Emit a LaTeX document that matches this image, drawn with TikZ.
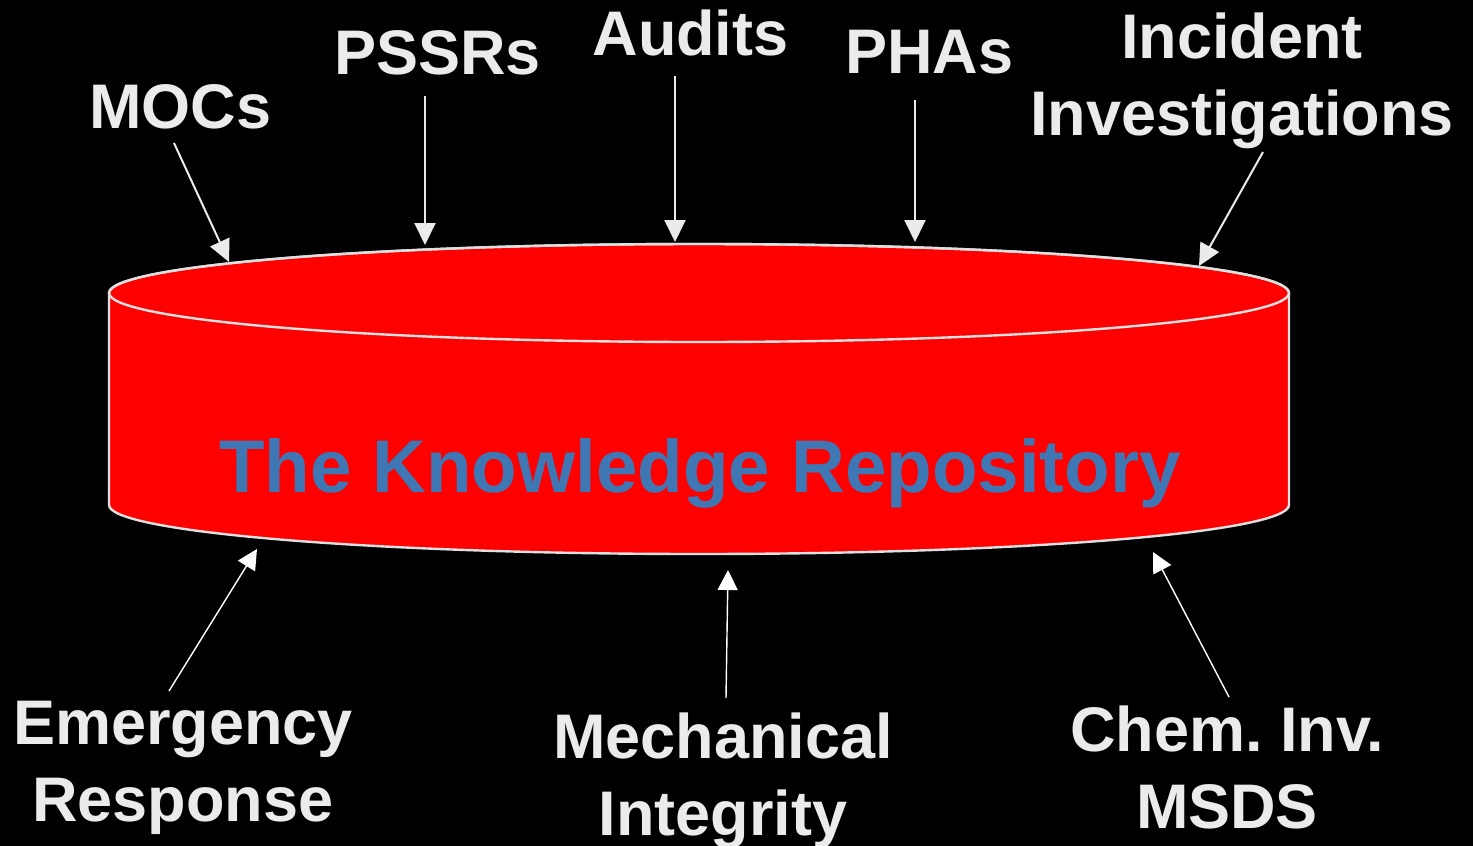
\documentclass[tikz,border=0pt]{standalone}
\usepackage{fontspec}
\setmainfont{Liberation Sans}
\usetikzlibrary{arrows.meta}
\definecolor{lbl}{HTML}{EBEBEB}
\definecolor{repo}{HTML}{3F76B4}
\definecolor{rim}{HTML}{E0E0E0}
\frenchspacing
\begin{document}
\begin{tikzpicture}[x=1pt,y=-1pt,
  lab/.style={text=lbl,font=\fontsize{63}{77}\selectfont\bfseries\frenchspacing,align=center,anchor=base,inner sep=0pt},
  toparrow/.style={draw=lbl,line width=2pt,-{Triangle[length=22pt,width=21pt]}},
  botarrow/.style={draw=white,line width=1.4pt,-{Triangle[length=20pt,width=20pt]}}]
\fill[black] (0,0) rectangle (1473,846);
\useasboundingbox (0,0) rectangle (1473,846);
% cylinder
\fill[red,draw=rim,line width=2.4pt] (109,293) -- (109,505) arc[start angle=180,end angle=0,x radius=590,y radius=49]
  -- (1289,293) arc[start angle=0,end angle=-180,x radius=590,y radius=49] -- cycle;
\draw[rim,line width=2.4pt] (699,293) ellipse[x radius=590,y radius=49];
\node[text=repo,font=\fontsize{74.6}{80}\selectfont\bfseries,anchor=base,inner sep=0pt] (repo) at (700,492) {The Knowledge Repository};
% labels
\node[lab] (mocs) at (180.5,128) {MOCs};
\node[lab] (pssrs) at (437.5,74) {PSSRs};
\node[lab] (audits) at (690.5,55) {Audits};
\node[lab] (phas) at (929.5,73) {PHAs};
\node[lab] (inc) at (1242,135) {Incident\\Investigations};
\node[lab] (emer) at (183,821) {Emergency\\Response};
\node[lab] (mech) at (723,835) {Mechanical\\Integrity};
\node[lab] (chem) at (1227,828) {Chem. Inv.\\MSDS};
% connector ends
\coordinate (mocsS) at (174,143);   \coordinate (mocsT) at (229,262);
\coordinate (pssrsS) at (425,96);   \coordinate (pssrsT) at (425,245);
\coordinate (auditsS) at (675,76);  \coordinate (auditsT) at (675,242);
\coordinate (phasS) at (915,100);   \coordinate (phasT) at (915,242);
\coordinate (incS) at (1263,152);   \coordinate (incT) at (1199,266);
\coordinate (emerS) at (169,691);   \coordinate (emerT) at (257,549);
\coordinate (mechS) at (726,698);   \coordinate (mechT) at (728,570);
\coordinate (chemS) at (1229,697);  \coordinate (chemT) at (1153,552);
\draw[toparrow] (mocsS) -- (mocsT);
\draw[toparrow] (pssrsS) -- (pssrsT);
\draw[toparrow] (auditsS) -- (auditsT);
\draw[toparrow] (phasS) -- (phasT);
\draw[toparrow] (incS) -- (incT);
\draw[botarrow] (emerS) -- (emerT);
\draw[botarrow] (mechS) -- (mechT);
\draw[botarrow] (chemS) -- (chemT);
\end{tikzpicture}
\end{document}
